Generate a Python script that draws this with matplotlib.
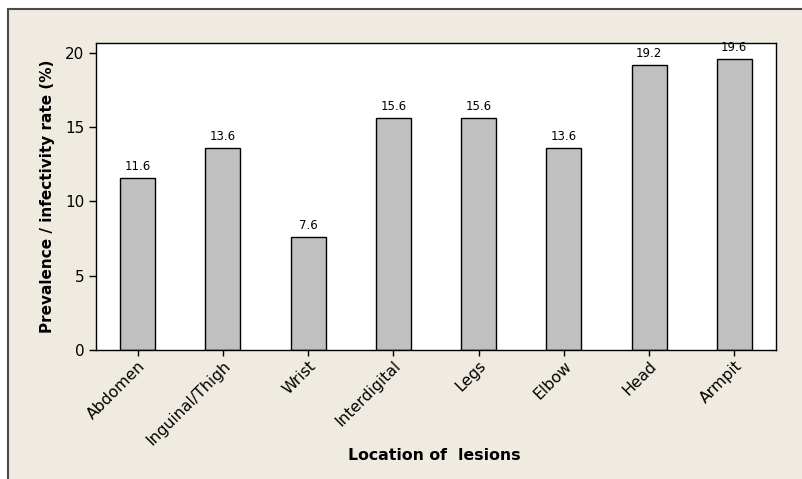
import matplotlib
matplotlib.use("Agg")
import matplotlib.pyplot as plt
from matplotlib.patches import Rectangle

categories = ["Abdomen", "Inguinal/Thigh", "Wrist", "Interdigital", "Legs", "Elbow", "Head", "Armpit"]
values = [11.6, 13.6, 7.6, 15.6, 15.6, 13.6, 19.2, 19.6]
yticks = [0, 5, 10, 15, 20]

W, H = 802, 479
fig = plt.figure(figsize=(W/100, H/100), dpi=100, facecolor="white")
bg = Rectangle((8/W, -0.01), 1.0, 1 - 9/H + 0.01, transform=fig.transFigure,
               facecolor="#efebe1", edgecolor="#4a4a4a", linewidth=1.5, zorder=-10)
fig.patches.append(bg)

ax = fig.add_axes([96/W, 1 - 350/H, (776-96)/W, (350-43)/H])
ax.set_zorder(1)
ax.set_facecolor("white")
x = list(range(len(categories)))
ax.bar(x, values, width=0.41, color="#c0c0c0", edgecolor="black", linewidth=1.0)
for xi, v in zip(x, values):
    ax.text(xi, v + 0.35, f"{v:.1f}", ha="center", va="bottom", fontsize=8.5)

ax.set_xlim(-0.49, 7.49)
ax.set_ylim(0, 20.67)
ax.set_yticks(yticks)
ax.set_xticks(x)
ax.set_xticklabels(categories, rotation=45, ha="right", rotation_mode="anchor", fontsize=11.3)
ax.tick_params(axis="y", labelsize=11, direction="out", length=5, width=1)
ax.tick_params(axis="x", direction="out", length=4, width=1, pad=2)
for s in ax.spines.values():
    s.set_linewidth(1.0)

ax.set_ylabel("Prevalence / infectivity rate (%)", fontsize=11, fontweight="bold", labelpad=7)
fig.text(434/W, 1 - 455/H, "Location of  lesions", fontsize=11.3, fontweight="bold", ha="center", va="center")

fig.savefig("out.png", dpi=100, facecolor=fig.get_facecolor())
